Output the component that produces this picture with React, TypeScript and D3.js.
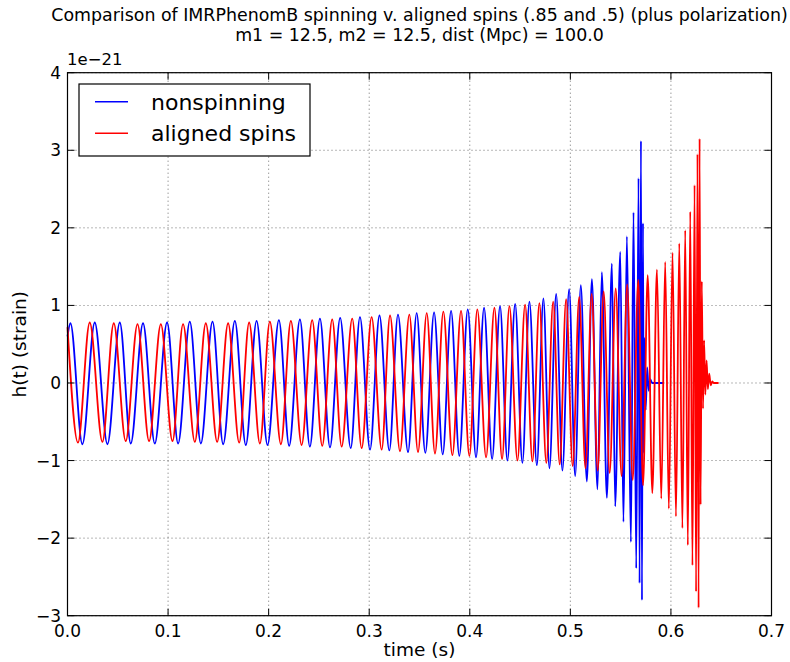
import React, { useEffect, useRef } from 'react';
import * as d3 from 'd3';

// Peaks / troughs of each waveform: [time (s), h(t) in units of 1e-21]
const nonspinning: [number, number][] = [
  [0.0, 0.6], [0.0029, 0.77], [0.0148, -0.79], [0.0271, 0.78], [0.0397, -0.79], [0.052, 0.78],
  [0.0629, -0.78], [0.0751, 0.77], [0.0868, -0.78], [0.099, 0.78], [0.11, -0.78], [0.1216, 0.79],
  [0.1326, -0.78], [0.1442, 0.79], [0.1548, -0.79], [0.1664, 0.8], [0.1773, -0.8], [0.188, 0.8],
  [0.1989, -0.8], [0.2102, 0.81], [0.2204, -0.81], [0.2311, 0.82], [0.241, -0.82], [0.251, 0.83],
  [0.261, -0.83], [0.2711, 0.84], [0.2816, -0.84], [0.2908, 0.85], [0.3008, -0.86], [0.3102, 0.87],
  [0.32, -0.87], [0.3286, 0.88], [0.3386, -0.89], [0.3472, 0.9], [0.3558, -0.9], [0.3645, 0.91],
  [0.3731, -0.92], [0.3814, 0.93], [0.3896, -0.94], [0.398, 0.95], [0.4062, -0.96], [0.4142, 0.97],
  [0.4222, -0.98], [0.4301, 0.99], [0.4374, -1.0], [0.4451, 1.02], [0.4523, -1.03], [0.4593, 1.05],
  [0.4667, -1.06], [0.4732, 1.09], [0.4792, -1.1], [0.4859, 1.15], [0.4921, -1.13], [0.4988, 1.21],
  [0.5048, -1.2], [0.5104, 1.26], [0.5164, -1.27], [0.5214, 1.34], [0.527, -1.37], [0.5313, 1.43],
  [0.5363, -1.48], [0.5413, 1.54], [0.5446, -1.59], [0.5496, 1.69], [0.5528, -1.79], [0.5562, 1.89],
  [0.5602, -2.05], [0.5628, 2.2], [0.5655, -2.39], [0.5678, 2.64], [0.5688, -2.58], [0.5702, 3.12],
  [0.5712, -2.8], [0.5722, 2.06], [0.5729, -0.9], [0.5737, 0.58], [0.5749, -0.35], [0.5764, 0.2],
  [0.5779, -0.1], [0.5794, 0.05], [0.5814, 0.0], [0.5921, 0.0],
];

const alignedSpins: [number, number][] = [
  [0.0, 0.72], [0.0104, -0.77], [0.0221, 0.78], [0.0347, -0.76], [0.046, 0.77], [0.0579, -0.75],
  [0.0696, 0.76], [0.0811, -0.75], [0.0928, 0.76], [0.1044, -0.75], [0.1149, 0.76], [0.1266, -0.76],
  [0.1375, 0.77], [0.1488, -0.76], [0.1597, 0.77], [0.1707, -0.77], [0.1806, 0.78], [0.1913, -0.78],
  [0.2012, 0.79], [0.2122, -0.79], [0.2221, 0.8], [0.2328, -0.8], [0.2433, 0.81], [0.2533, -0.81],
  [0.2632, 0.82], [0.2726, -0.82], [0.2831, 0.83], [0.2925, -0.84], [0.3024, 0.85], [0.3124, -0.86],
  [0.3207, 0.87], [0.3306, -0.88], [0.3399, 0.88], [0.3485, -0.89], [0.3572, 0.9], [0.3654, -0.91],
  [0.3737, 0.92], [0.3827, -0.93], [0.3913, 0.93], [0.3996, -0.94], [0.4075, 0.95], [0.4162, -0.96],
  [0.4245, 0.97], [0.4321, -0.98], [0.4394, 0.99], [0.4474, -1.0], [0.455, 1.01], [0.4623, -1.01],
  [0.4692, 1.03], [0.4761, -1.03], [0.4829, 1.05], [0.4894, -1.05], [0.4958, 1.08], [0.5023, -1.07],
  [0.5088, 1.11], [0.515, -1.1], [0.5212, 1.15], [0.5272, -1.13], [0.5331, 1.18], [0.5391, -1.16],
  [0.5451, 1.22], [0.5509, -1.2], [0.5565, 1.27], [0.562, -1.25], [0.5675, 1.33], [0.5723, -1.32],
  [0.5769, 1.39], [0.5815, -1.42], [0.5861, 1.46], [0.5904, -1.49], [0.5943, 1.56], [0.5979, -1.62],
  [0.6016, 1.68], [0.605, -1.72], [0.6083, 1.8], [0.6114, -1.87], [0.6142, 1.97], [0.6168, -2.09],
  [0.6192, 2.21], [0.6214, -2.35], [0.6235, 2.55], [0.625, -2.69], [0.6264, 2.95], [0.6275, -2.9],
  [0.6285, 3.15], [0.6295, -1.57], [0.6307, 1.31], [0.6319, -0.33], [0.633, 0.55], [0.6342, -0.15],
  [0.6355, 0.29], [0.6367, -0.08], [0.6381, 0.12], [0.6396, -0.03], [0.6411, 0.02], [0.6426, 0.0],
  [0.6474, 0.0],
];

const seriesNames = ['nonspinning', 'aligned spins'];
const seriesColors = ['#0000ff', '#ff0000'];
const xTicks = [0, 0.1, 0.2, 0.3, 0.4, 0.5, 0.6, 0.7];
const yTicks = [-3, -2, -1, 0, 1, 2, 3, 4];
const titleLines = [
  'Comparison of IMRPhenomB spinning v. aligned spins (.85 and .5) (plus polarization)',
  'm1 = 12.5, m2 = 12.5, dist (Mpc) = 100.0',
];

const FONT = '"DejaVu Sans", sans-serif';

const App = () => {
  const svgRef = useRef<SVGSVGElement>(null);

  useEffect(() => {
    if (!svgRef.current) return;
    const root = d3.select(svgRef.current);
    root.selectAll('*').remove();

    const width = 790;
    const height = 662;
    const plot = { left: 67.5, right: 771.5, top: 72.7, bottom: 615.7 };

    root.append('rect').attr('width', width).attr('height', height).attr('fill', '#fff');

    const x = d3.scaleLinear().domain([0, 0.7]).range([plot.left, plot.right]);
    const y = d3.scaleLinear().domain([-3, 4]).range([plot.bottom, plot.top]);

    // dotted grid
    const grid = root.append('g');
    xTicks.forEach(t => {
      grid.append('line')
        .attr('x1', x(t)).attr('x2', x(t))
        .attr('y1', plot.top).attr('y2', plot.bottom)
        .attr('stroke', '#000').attr('stroke-width', 0.8)
        .attr('stroke-dasharray', '1,3').attr('opacity', 0.7);
    });
    yTicks.forEach(v => {
      grid.append('line')
        .attr('x1', plot.left).attr('x2', plot.right)
        .attr('y1', y(v)).attr('y2', y(v))
        .attr('stroke', '#000').attr('stroke-width', 0.8)
        .attr('stroke-dasharray', '1,3').attr('opacity', 0.7);
    });

    // waveforms
    const line = d3.line<[number, number]>()
      .x(d => x(d[0]))
      .y(d => y(d[1]))
      .curve(d3.curveMonotoneX);

    [nonspinning, alignedSpins].forEach((series, i) => {
      root.append('path')
        .attr('d', line(series))
        .attr('fill', 'none')
        .attr('stroke', seriesColors[i])
        .attr('stroke-width', 1.8);
    });

    // frame and inward ticks
    root.append('rect')
      .attr('x', plot.left).attr('y', plot.top)
      .attr('width', plot.right - plot.left).attr('height', plot.bottom - plot.top)
      .attr('fill', 'none').attr('stroke', '#000').attr('stroke-width', 1.2);

    const tickLen = 7;
    xTicks.forEach(t => {
      root.append('line').attr('x1', x(t)).attr('x2', x(t))
        .attr('y1', plot.bottom).attr('y2', plot.bottom - tickLen).attr('stroke', '#000');
      root.append('line').attr('x1', x(t)).attr('x2', x(t))
        .attr('y1', plot.top).attr('y2', plot.top + tickLen).attr('stroke', '#000');
      root.append('text')
        .attr('x', x(t)).attr('y', 637)
        .attr('text-anchor', 'middle')
        .attr('font-family', FONT).attr('font-size', 17)
        .text(d3.format('.1f')(t));
    });
    yTicks.forEach(v => {
      root.append('line').attr('x1', plot.left).attr('x2', plot.left + tickLen)
        .attr('y1', y(v)).attr('y2', y(v)).attr('stroke', '#000');
      root.append('line').attr('x1', plot.right).attr('x2', plot.right - tickLen)
        .attr('y1', y(v)).attr('y2', y(v)).attr('stroke', '#000');
      root.append('text')
        .attr('x', 61).attr('y', y(v) + 6)
        .attr('text-anchor', 'end')
        .attr('font-family', FONT).attr('font-size', 17)
        .text(v < 0 ? '\u2212' + Math.abs(v) : String(v));
    });

    root.append('text')
      .attr('x', 67).attr('y', 65)
      .attr('font-family', FONT).attr('font-size', 16.5)
      .text('1e\u221221');

    // titles and axis labels
    titleLines.forEach((txt, i) => {
      root.append('text')
        .attr('x', (plot.left + plot.right) / 2).attr('y', 21 + i * 20)
        .attr('text-anchor', 'middle')
        .attr('font-family', FONT).attr('font-size', 17.4)
        .text(txt);
    });

    root.append('text')
      .attr('x', (plot.left + plot.right) / 2).attr('y', 656)
      .attr('text-anchor', 'middle')
      .attr('font-family', FONT).attr('font-size', 18.5)
      .text('time (s)');

    root.append('text')
      .attr('transform', `translate(26,${(plot.top + plot.bottom) / 2}) rotate(-90)`)
      .attr('text-anchor', 'middle')
      .attr('font-family', FONT).attr('font-size', 18.5)
      .text('h(t) (strain)');

    // legend
    const legend = root.append('g');
    legend.append('rect')
      .attr('x', 79).attr('y', 84).attr('width', 231).attr('height', 72)
      .attr('fill', '#fff').attr('stroke', '#000').attr('stroke-width', 1.2);
    seriesNames.forEach((name, i) => {
      const ly = 101.7 + i * 31.5;
      legend.append('line')
        .attr('x1', 95).attr('x2', 128).attr('y1', ly).attr('y2', ly)
        .attr('stroke', seriesColors[i]).attr('stroke-width', 1.5);
      legend.append('text')
        .attr('x', 151).attr('y', ly + 8)
        .attr('font-family', FONT).attr('font-size', 22)
        .text(name);
    });
  }, []);

  return (
    <svg
      ref={svgRef}
      width={790}
      height={662}
      style={{ position: 'absolute', left: 0, top: 0, display: 'block' }}
    />
  );
};

export default App;
